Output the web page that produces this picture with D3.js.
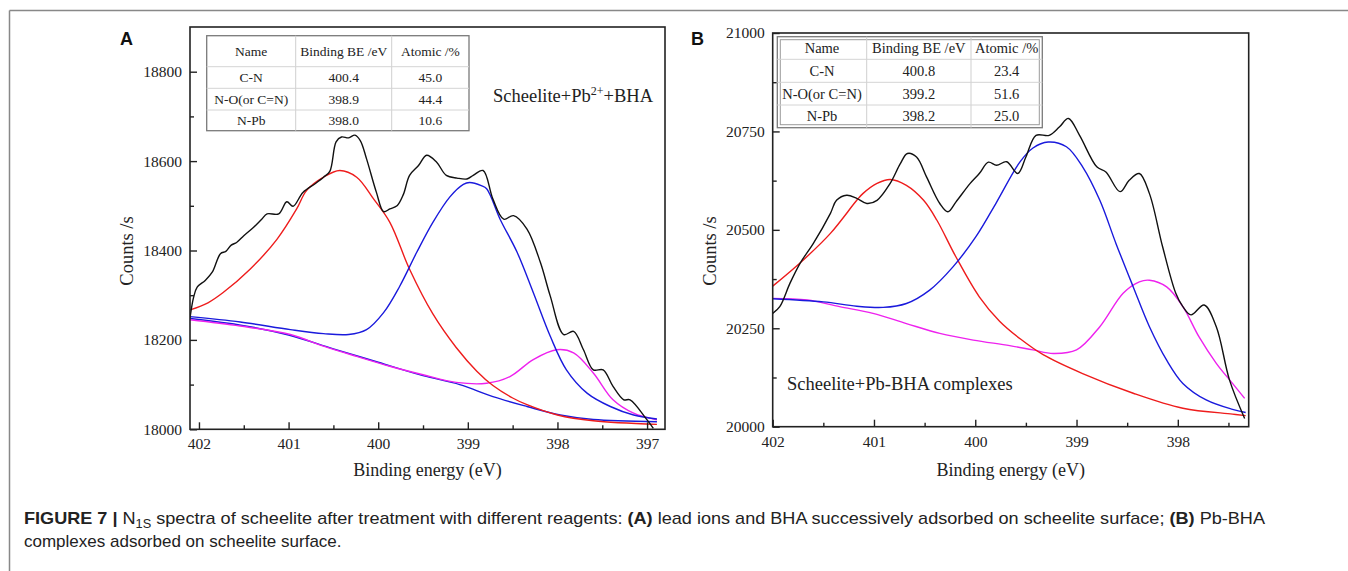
<!DOCTYPE html>
<html><head><meta charset="utf-8">
<script src="https://cdn.jsdelivr.net/npm/d3@7/dist/d3.min.js"></script>
<style>
html,body{margin:0;padding:0;background:#fff;}
svg{display:block;}
</style></head>
<body>
<svg id="chart" width="1348" height="571"></svg>
<script>
// ---------------- DATA ----------------
const xTicksA = [402, 401, 400, 399, 398, 397];
const xMinorA = [401.5, 400.5, 399.5, 398.5, 397.5];
const yTicksA = [18000, 18200, 18400, 18600, 18800];
const yMinorA = [18100, 18300, 18500, 18700];
const xTicksB = [402, 401, 400, 399, 398];
const xMinorB = [401.5, 400.5, 399.5, 398.5, 397.5];
const yTicksB = [20000, 20250, 20500, 20750, 21000];
const yMinorB = [20125, 20375, 20625, 20875];

const tableHeader = ["Name", "Binding BE /eV", "Atomic /%"];
const speciesA = ["C-N", "N-O(or C=N)", "N-Pb"];
const bindingA = ["400.4", "398.9", "398.0"];
const atomicA = ["45.0", "44.4", "10.6"];
const speciesB = ["C-N", "N-O(or C=N)", "N-Pb"];
const bindingB = ["400.8", "399.2", "398.2"];
const atomicB = ["23.4", "51.6", "25.0"];

// Panel A curves: [binding energy eV, counts/s]
const rawA = [[402.1,18249],[402.06,18295],[402.02,18318],[401.93,18333],[401.85,18352],[401.76,18393],[401.7,18398],
 [401.64,18412],[401.58,18418],[401.5,18433],[401.39,18452],[401.3,18470],[401.24,18482],[401.11,18482],[401.02,18509],
 [400.95,18499],[400.84,18530],[400.7,18550],[400.61,18564],[400.54,18577],[400.47,18643],[400.41,18654],[400.33,18652],
 [400.26,18658],[400.2,18646],[400.13,18605],[400.02,18530],[399.94,18487],[399.87,18493],[399.79,18500],[399.72,18525],
 [399.65,18568],[399.55,18590],[399.46,18613],[399.35,18598],[399.24,18568],[399.12,18562],[399.01,18560],[398.94,18568],
 [398.83,18579],[398.72,18515],[398.6,18470],[398.49,18478],[398.34,18448],[398.19,18373],[398.08,18298],[397.93,18212],
 [397.82,18219],[397.71,18178],[397.6,18133],[397.49,18133],[397.38,18096],[397.26,18066],[397.19,18066],[397.0,18021],
 [396.93,18002]];
const cnA = [[402.1,18267],[401.9,18283],[401.73,18306],[401.43,18358],[401.13,18425],[400.91,18493],[400.8,18534],
 [400.61,18564],[400.43,18579],[400.24,18564],[400.05,18515],[399.87,18463],[399.65,18358],[399.39,18258],[399.13,18183],
 [398.9,18130],[398.72,18098],[398.5,18070],[398.34,18055],[398.0,18032],[397.6,18019],[396.89,18011]];
const noA = [[402.1,18252],[401.54,18240],[400.98,18223],[400.61,18214],[400.33,18212],[400.13,18223],[399.94,18261],
 [399.76,18320],[399.57,18396],[399.39,18463],[399.2,18520],[399.05,18548],[398.98,18552],[398.85,18545],[398.79,18538],
 [398.64,18470],[398.45,18396],[398.27,18306],[398.08,18208],[397.9,18133],[397.67,18081],[397.41,18051],[397.15,18032],
 [396.89,18023]];
const npbA = [[402.1,18245],[401.54,18231],[400.98,18212],[400.61,18186],[400.24,18163],[399.87,18141],[399.5,18122],
 [399.13,18105],[398.79,18103],[398.53,18118],[398.27,18156],[398.01,18178],[397.82,18171],[397.6,18126],[397.38,18066],
 [397.15,18036],[396.89,18021]];
const bgA = [[402.1,18248],[401.5,18232],[401.0,18211],[400.5,18180],[400.0,18150],[399.5,18120],[399.09,18100],
 [398.72,18073],[398.34,18051],[397.97,18032],[397.6,18022],[396.89,18017]];

// Panel B curves
const rawB = [[402,20288],[401.93,20305],[401.83,20364],[401.73,20415],[401.6,20465],[401.43,20542],[401.37,20575],
 [401.27,20588],[401.17,20580],[401.07,20567],[400.97,20575],[400.84,20618],[400.74,20668],[400.67,20694],[400.58,20685],
 [400.48,20634],[400.35,20567],[400.27,20546],[400.19,20571],[400.05,20618],[399.96,20643],[399.87,20672],[399.79,20664],
 [399.69,20673],[399.58,20643],[399.5,20685],[399.4,20740],[399.27,20740],[399.17,20761],[399.08,20783],[398.97,20740],
 [398.8,20660],[398.71,20647],[398.57,20597],[398.48,20626],[398.38,20643],[398.28,20592],[398.15,20457],[398.02,20339],
 [397.95,20305],[397.87,20284],[397.74,20309],[397.62,20254],[397.49,20119],[397.34,20021]];
const cnB = [[402,20357],[401.7,20423],[401.43,20491],[401.17,20575],[401.11,20592],[400.97,20618],[400.84,20628],
 [400.68,20613],[400.51,20575],[400.38,20525],[400.19,20431],[399.96,20330],[399.76,20268],[399.55,20222],[399.33,20183],
 [398.94,20135],[398.44,20085],[397.95,20047],[397.46,20032],[397.33,20028]];
const noB = [[402,20325],[401.5,20317],[401.17,20306],[400.91,20303],[400.68,20313],[400.45,20347],[400.22,20406],
 [399.99,20484],[399.79,20570],[399.56,20672],[399.43,20708],[399.28,20723],[399.1,20711],[398.94,20660],[398.77,20575],
 [398.61,20465],[398.44,20355],[398.28,20254],[398.11,20169],[397.95,20110],[397.72,20068],[397.46,20044],[397.33,20036]];
const npbB = [[402,20326],[401.66,20322],[401.34,20305],[401.01,20288],[400.68,20262],[400.35,20237],[400.02,20220],
 [399.66,20206],[399.43,20195],[399.23,20186],[399.0,20195],[398.77,20254],[398.54,20339],[398.38,20368],[398.28,20372],
 [398.11,20355],[397.95,20305],[397.79,20228],[397.62,20161],[397.46,20110],[397.34,20072]];

// ---------------- DRAW ----------------
const svg = d3.select("#chart");
const SERIF = "'Liberation Serif','Times New Roman',serif";
const SANS = "'Liberation Sans',Arial,sans-serif";
const COLORS = {raw: "#111111", cn: "#ee1c1c", no: "#1a1adc", npb: "#ee22ee"};

// figure frame (top and left rules)
svg.append("line").attr("x1", 9.5).attr("y1", 10.5).attr("x2", 1348).attr("y2", 10.5).attr("stroke", "#888").attr("stroke-width", 1.5);
svg.append("line").attr("x1", 9.5).attr("y1", 10.5).attr("x2", 9.5).attr("y2", 571).attr("stroke", "#888").attr("stroke-width", 1.5);

function drawPanel(p) {
  const g = svg.append("g");
  const x = d3.scaleLinear().domain(p.xDomain).range([p.left, p.right]);
  const y = d3.scaleLinear().domain(p.yDomain).range([p.bottom, p.top]);

  const line = d3.line().curve(d3.curveCatmullRom.alpha(0.5)).x(d => x(d[0])).y(d => y(d[1]));
  const clip = "clip-" + p.id;
  svg.append("clipPath").attr("id", clip).append("rect")
    .attr("x", p.left).attr("y", p.top).attr("width", p.right - p.left).attr("height", p.bottom - p.top);
  const cg = g.append("g").attr("clip-path", `url(#${clip})`);
  p.series.forEach(s => {
    cg.append("path").datum(s.data).attr("d", line).attr("fill", "none")
      .attr("stroke", s.color).attr("stroke-width", 1.4).attr("stroke-linejoin", "round");
  });

  const xAxis = d3.axisBottom(x).tickValues(p.xTicks).tickFormat(d3.format("d")).tickSizeInner(-7).tickSizeOuter(0).tickPadding(9);
  const xg = g.append("g").attr("transform", `translate(0,${p.bottom})`).call(xAxis);
  const xmg = g.append("g").attr("transform", `translate(0,${p.bottom})`)
    .call(d3.axisBottom(x).tickValues(p.xMinor).tickFormat("").tickSizeInner(-4).tickSizeOuter(0));
  const yAxis = d3.axisLeft(y).tickValues(p.yTicks).tickFormat(d3.format("d")).tickSizeInner(-7).tickSizeOuter(0).tickPadding(8);
  const yg = g.append("g").attr("transform", `translate(${p.left},0)`).call(yAxis);
  const ymg = g.append("g").attr("transform", `translate(${p.left},0)`)
    .call(d3.axisLeft(y).tickValues(p.yMinor).tickFormat("").tickSizeInner(-4).tickSizeOuter(0));
  [xg, xmg, yg, ymg].forEach(a => {
    a.select(".domain").remove();
    a.selectAll(".tick line").attr("stroke", "#222").attr("stroke-width", 1.4);
    a.selectAll("text").attr("font-family", SERIF).attr("font-size", 15.5).attr("fill", "#222");
  });

  g.append("rect").attr("x", p.left).attr("y", p.top).attr("width", p.right - p.left).attr("height", p.bottom - p.top)
    .attr("fill", "none").attr("stroke", "#222").attr("stroke-width", 1.6);

  g.append("text").attr("x", (p.left + p.right) / 2 + p.xTitleDx).attr("y", 476).attr("text-anchor", "middle")
    .attr("font-family", SERIF).attr("font-size", 18).attr("fill", "#222").text("Binding energy (eV)");
  g.append("text").attr("transform", `translate(${p.yTitleX},251) rotate(-90)`).attr("text-anchor", "middle")
    .attr("dy", "0.35em").attr("font-family", SERIF).attr("font-size", 18.5).attr("fill", "#222").text("Counts /s");

  g.append("text").attr("x", p.letterX).attr("y", 45).attr("font-family", SANS).attr("font-weight", "bold")
    .attr("font-size", 18).attr("fill", "#111").text(p.letter);

  const t = p.table;
  const tg = g.append("g");
  tg.append("rect").attr("x", t.cols[0]).attr("y", t.rows[0]).attr("width", t.cols[3] - t.cols[0]).attr("height", t.rows[4] - t.rows[0])
    .attr("fill", "#fff").attr("stroke", "#7a7a7a").attr("stroke-width", 1.3);
  if (t.double) {
    tg.append("rect").attr("x", t.cols[0] + 3).attr("y", t.rows[0] + 3).attr("width", t.cols[3] - t.cols[0] - 6)
      .attr("height", t.rows[4] - t.rows[0] - 6).attr("fill", "none").attr("stroke", "#9a9a9a").attr("stroke-width", 1);
  }
  [1, 2].forEach(i => tg.append("line").attr("x1", t.cols[i]).attr("x2", t.cols[i]).attr("y1", t.rows[0]).attr("y2", t.rows[4])
    .attr("stroke", "#cfcfcf").attr("stroke-width", 1));
  [1, 2, 3].forEach(i => tg.append("line").attr("y1", t.rows[i]).attr("y2", t.rows[i]).attr("x1", t.cols[0]).attr("x2", t.cols[3])
    .attr("stroke", "#d4d4d4").attr("stroke-width", 1));
  const cells = [tableHeader].concat(t.names.map((n, i) => [n, t.be[i], t.at[i]]));
  cells.forEach((row, r) => row.forEach((val, c) => {
    tg.append("text").attr("x", (t.cols[c] + t.cols[c + 1]) / 2).attr("y", (t.rows[r] + t.rows[r + 1]) / 2)
      .attr("dy", "0.35em").attr("text-anchor", "middle").attr("font-family", SERIF)
      .attr("font-size", t.fs).attr("fill", "#222").text(val);
  }));

  const an = g.append("text").attr("x", p.note.x).attr("y", p.note.y).attr("font-family", SERIF)
    .attr("font-size", 18.5).attr("fill", "#222");
  p.note.parts.forEach(pt => {
    const ts = an.append("tspan").text(pt.t);
    if (pt.sup) ts.attr("font-size", 12).attr("dy", -7);
    if (pt.after) ts.attr("dy", 7);
  });
}

drawPanel({
  id: "A", letter: "A", letterX: 120,
  left: 190, right: 665, top: 27, bottom: 429.3,
  xDomain: [402.1, 396.8], yDomain: [18000, 18900],
  xTicks: xTicksA, xMinor: xMinorA, yTicks: yTicksA, yMinor: yMinorA,
  xTitleDx: 0, yTitleX: 127,
  series: [
    {data: bgA, color: COLORS.no}, {data: npbA, color: COLORS.npb}, {data: cnA, color: COLORS.cn},
    {data: noA, color: COLORS.no}, {data: rawA, color: COLORS.raw}
  ],
  table: {cols: [206.7, 295.7, 391.7, 469], rows: [35.7, 66.7, 88.3, 110, 130.7], fs: 13.5, double: false,
    names: speciesA, be: bindingA, at: atomicA},
  note: {x: 493, y: 102, parts: [{t: "Scheelite+Pb"}, {t: "2+", sup: true}, {t: "+BHA", after: true}]}
});

drawPanel({
  id: "B", letter: "B", letterX: 691,
  left: 772.7, right: 1248.7, top: 33, bottom: 426.7,
  xDomain: [402, 397.3], yDomain: [20000, 21000],
  xTicks: xTicksB, xMinor: xMinorB, yTicks: yTicksB, yMinor: yMinorB,
  xTitleDx: 0, yTitleX: 710,
  series: [
    {data: npbB, color: COLORS.npb}, {data: cnB, color: COLORS.cn}, {data: noB, color: COLORS.no},
    {data: rawB, color: COLORS.raw}
  ],
  table: {cols: [777.3, 866.7, 971, 1042.3], rows: [36.7, 59.3, 82.3, 105, 127.7], fs: 14.5, double: true,
    names: speciesB, be: bindingB, at: atomicB},
  note: {x: 787, y: 390, parts: [{t: "Scheelite+Pb-BHA complexes"}]}
});

// caption
const cap1 = svg.append("text").attr("x", 24).attr("y", 524).attr("font-family", SANS).attr("font-size", 17).attr("fill", "#222");
cap1.append("tspan").attr("font-weight", "bold").text("FIGURE 7 | ");
cap1.append("tspan").text("N");
cap1.append("tspan").attr("font-size", 12).attr("dy", 4).text("1S");
cap1.append("tspan").attr("dy", -4).text(" spectra of scheelite after treatment with different reagents: ");
cap1.append("tspan").attr("font-weight", "bold").text("(A)");
cap1.append("tspan").text(" lead ions and BHA successively adsorbed on scheelite surface; ");
cap1.append("tspan").attr("font-weight", "bold").text("(B)");
cap1.append("tspan").text(" Pb-BHA");
const w1 = cap1.node().getComputedTextLength();
if (w1 > 0) cap1.attr("textLength", 1241).attr("lengthAdjust", "spacingAndGlyphs");
svg.append("text").attr("x", 24).attr("y", 547).attr("font-family", SANS).attr("font-size", 17).attr("fill", "#222")
  .text("complexes adsorbed on scheelite surface.");
</script>
</body></html>
